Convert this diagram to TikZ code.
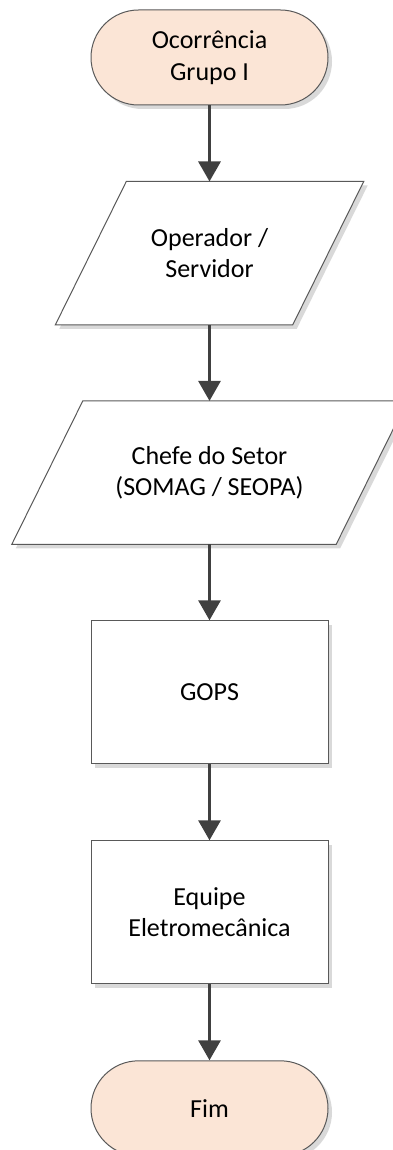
\documentclass[tikz,border=0pt]{standalone}
\usepackage{fontspec}
\setmainfont{Carlito}
\usepackage{tikz}
\usetikzlibrary{positioning,calc,shadows,backgrounds,arrows.meta}

\definecolor{termfill}{HTML}{FBE5D6}
\definecolor{linegray}{HTML}{595959}
\definecolor{arrowgray}{HTML}{404040}
\definecolor{shadowgray}{HTML}{D9D9D9}

\tikzset{
  txt/.style={align=center, font=\fontsize{26}{31.5}\selectfont},
  boxshadow/.style={drop shadow={shadow xshift=4pt, shadow yshift=-4pt, fill=shadowgray, opacity=1}},
  term/.style={txt, draw=linegray, line width=1pt, fill=termfill, rounded corners=47.5pt,
               minimum width=237pt, minimum height=95pt, boxshadow},
  proc/.style={txt, draw=linegray, line width=1pt, fill=white,
               minimum width=237pt, minimum height=143pt, boxshadow},
  io/.style={txt, inner sep=0pt, minimum height=143pt},
  flow/.style={line width=3pt, draw=arrowgray, -{Triangle[width=22pt,length=20pt]}}
}

\begin{document}
\begin{tikzpicture}
\useasboundingbox (0,0) rectangle (393pt,-1150pt);

\node[term] (start) at (209.5pt,-57.5pt) {Ocorrência\\Grupo I};
\node[io, minimum width=237pt, below = 76pt of start] (oper) {Operador /\\Servidor};
\node[io, minimum width=324pt, below = 76pt of oper] (chefe) {Chefe do Setor\\(SOMAG / SEOPA)};
\node[proc, below = 76pt of chefe] (gops) {GOPS};
\node[proc, below = 76pt of gops] (equipe) {Equipe\\Eletromecânica};
\node[term, below = 76pt of equipe] (fim) {Fim};

% parallelogram outlines behind the text
\begin{scope}[on background layer]
\foreach \n in {oper,chefe}{
  \fill[shadowgray] ($(\n.north west)+(39.5pt,-4pt)$) -- ($(\n.north east)+(39.5pt,-4pt)$)
     -- ($(\n.south east)+(-31.5pt,-4pt)$) -- ($(\n.south west)+(-31.5pt,-4pt)$) -- cycle;
  \draw[draw=linegray, line width=1pt, fill=white] ($(\n.north west)+(35.5pt,0)$) -- ($(\n.north east)+(35.5pt,0)$)
     -- ($(\n.south east)+(-35.5pt,0)$) -- ($(\n.south west)+(-35.5pt,0)$) -- cycle;
}
\end{scope}

% Connecting Arrows
\draw [flow] (start) -- (oper);
\draw [flow] (oper) -- (chefe);
\draw [flow] (chefe) -- (gops);
\draw [flow] (gops) -- (equipe);
\draw [flow] (equipe) -- (fim);

\end{tikzpicture}
\end{document}
